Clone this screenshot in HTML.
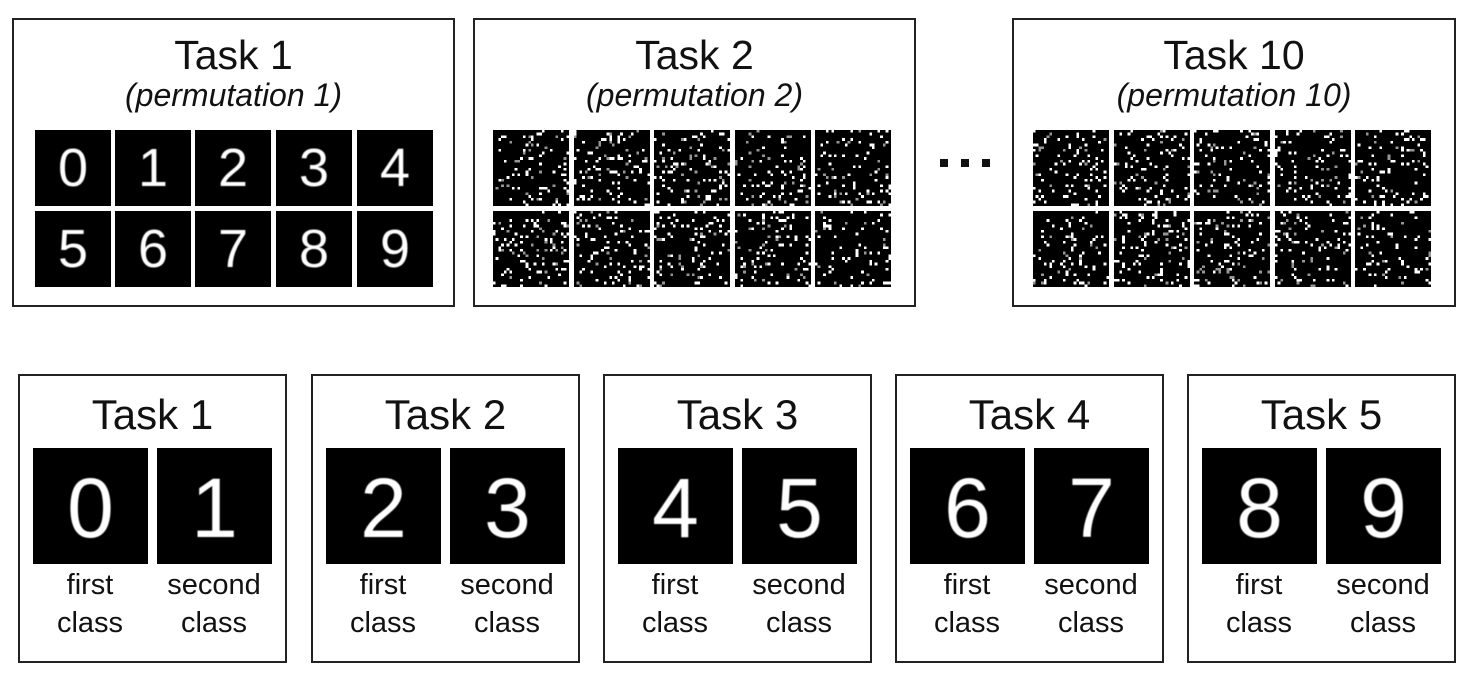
<!DOCTYPE html>
<html><head><meta charset="utf-8">
<style>
body{margin:0;width:1474px;height:682px;background:#fff;position:relative;overflow:hidden;font-family:"Liberation Sans",Arial,sans-serif;color:#111}
.box{position:absolute;border:2.5px solid #222;box-sizing:border-box;background:#fff}
.t{position:absolute;left:0;right:0;text-align:center;white-space:nowrap}
.tile{position:absolute;background:#000;overflow:hidden}
.dg{position:absolute;left:0;right:0;text-align:center;color:#fff;font-family:"Liberation Sans",sans-serif;filter:blur(0.6px)}
canvas{position:absolute;image-rendering:pixelated}
.lab{position:absolute;text-align:center;font-size:29px;line-height:38px;width:124px}
.dot{position:absolute;width:8px;height:8px;background:#111;top:159px}
</style></head><body>

<div class="box" style="left:12px;top:18px;width:443px;height:289px">
 <div class="t" style="top:12px;font-size:41px">Task 1</div>
 <div class="t" style="top:57px;font-size:32px;font-style:italic">(permutation 1)</div>
</div>
<div class="box" style="left:473px;top:18px;width:443px;height:289px">
 <div class="t" style="top:12px;font-size:41px">Task 2</div>
 <div class="t" style="top:57px;font-size:32px;font-style:italic">(permutation 2)</div>
</div>
<div class="box" style="left:1012px;top:18px;width:444px;height:289px">
 <div class="t" style="top:12px;font-size:41px">Task 10</div>
 <div class="t" style="top:57px;font-size:32px;font-style:italic">(permutation 10)</div>
</div>
<div class="dot" style="left:940px"></div><div class="dot" style="left:961px"></div><div class="dot" style="left:982px"></div>

<script>
var d=document.body;
function el(tag,css,html){var e=document.createElement(tag);e.style.cssText=css;if(html!=null)e.innerHTML=html;d.appendChild(e);return e;}
var xs=[35,115,195,276,357],ys=[130,211];
for(var r=0;r<2;r++)for(var c=0;c<5;c++){
 var t=el('div','left:'+xs[c]+'px;top:'+ys[r]+'px;width:76px;height:76px','');t.className='tile';
 var g=document.createElement('div');g.className='dg';g.style.cssText+='top:8px;font-size:54px;line-height:60px';g.textContent=String(r*5+c);t.appendChild(g);
}
var seed=12345;function rnd(){seed=(seed*1103515245+12345)&0x7fffffff;return seed/0x7fffffff;}
[493,1033].forEach(function(bx){
 for(var r=0;r<2;r++)for(var c=0;c<5;c++){
  var cv=document.createElement('canvas');cv.width=28;cv.height=28;
  cv.style.cssText='left:'+(bx+c*80.5)+'px;top:'+ys[r]+'px;width:76px;height:76px';
  var x=cv.getContext('2d');x.fillStyle='#000';x.fillRect(0,0,28,28);
  for(var i=0;i<28;i++)for(var j=0;j<28;j++){var v=rnd();if(v<0.11){var b=v<0.08?255:150;x.fillStyle='rgb('+b+','+b+','+b+')';x.fillRect(i,j,1,1);}}
  d.appendChild(cv);
 }
});
var bx=[18,311,603,895,1187];
for(var k=0;k<5;k++){
 var b=el('div','left:'+bx[k]+'px;top:374px;width:269px;height:289px','');b.className='box';
 var tt=document.createElement('div');tt.className='t';tt.style.cssText='top:15px;font-size:42px';tt.textContent='Task '+(k+1);b.appendChild(tt);
 for(var s=0;s<2;s++){
  var tl=el('div','left:'+(bx[k]+15+s*124)+'px;top:448px;width:115px;height:116px','');tl.className='tile';
  var g=document.createElement('div');g.className='dg';g.style.cssText+='top:14px;font-size:84px;line-height:92px';g.textContent=String(2*k+s);tl.appendChild(g);
  var l=el('div','left:'+(bx[k]+10+s*124)+'px;top:566px',s?'second<br>class':'first<br>class');l.className='lab';
 }
}
</script>
</body></html>
